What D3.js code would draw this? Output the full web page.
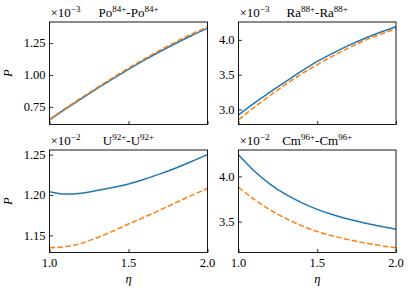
<!DOCTYPE html>
<html>
<head>
<meta charset="utf-8">
<script src="https://cdn.jsdelivr.net/npm/d3@7"></script>
<style>
  body { margin: 0; background: #fff; }
</style>
</head>
<body>
<svg id="chart" width="415" height="291" font-family="'Liberation Serif', 'DejaVu Serif', serif"></svg>
<script>
// eta grid shared by all four panels
const etaValues = [1.0, 1.1, 1.2, 1.3, 1.4, 1.5, 1.6, 1.7, 1.8, 1.9, 2.0];
const xTicks = [1.0, 1.5, 2.0];

// Po84+ - Po84+  (x 1e-3)
const poBlue   = [0.648, 0.732, 0.813, 0.892, 0.969, 1.044, 1.116, 1.184, 1.249, 1.310, 1.366];
const poOrange = [0.653, 0.738, 0.820, 0.900, 0.978, 1.054, 1.126, 1.195, 1.260, 1.322, 1.379];
const poTicks  = [0.75, 1.00, 1.25];

// Ra88+ - Ra88+  (x 1e-3)
const raBlue   = [2.92, 3.09, 3.25, 3.40, 3.55, 3.69, 3.81, 3.92, 4.02, 4.11, 4.19];
const raOrange = [2.85, 3.03, 3.20, 3.36, 3.51, 3.645, 3.77, 3.885, 3.99, 4.08, 4.16];
const raTicks  = [3.0, 3.5, 4.0];

// U92+ - U92+  (x 1e-2)
const uBlue   = [1.2040, 1.2011, 1.2022, 1.2055, 1.2093, 1.2137, 1.2195, 1.2262, 1.2335, 1.2415, 1.2500];
const uOrange = [1.1345, 1.1360, 1.1400, 1.1470, 1.1550, 1.1640, 1.1725, 1.1815, 1.1905, 1.1995, 1.2082];
const uTicks  = [1.15, 1.20, 1.25];

// Cm96+ - Cm96+  (x 1e-2)
const cmBlue   = [4.24, 4.06, 3.915, 3.80, 3.71, 3.635, 3.575, 3.525, 3.485, 3.448, 3.415];
const cmOrange = [3.88, 3.745, 3.63, 3.535, 3.455, 3.39, 3.34, 3.30, 3.265, 3.235, 3.21];
const cmTicks  = [3.5, 4.0];

const panels = [
    {el: 'Po', charge: '84+', exp: '\u22123', blue: poBlue, orange: poOrange, ticks: poTicks, fmt: '.2f', col: 0, row: 0},
    {el: 'Ra', charge: '88+', exp: '\u22123', blue: raBlue, orange: raOrange, ticks: raTicks, fmt: '.1f', col: 1, row: 0},
    {el: 'U', charge: '92+', exp: '\u22122', blue: uBlue, orange: uOrange, ticks: uTicks, fmt: '.2f', col: 0, row: 1},
    {el: 'Cm', charge: '96+', exp: '\u22122', blue: cmBlue, orange: cmOrange, ticks: cmTicks, fmt: '.1f', col: 1, row: 1}
];

const cols = [[49.5, 207.5], [238.5, 396]];
const rows = [[22, 124.5], [150, 252.5]];
const serif = "'Liberation Serif', 'DejaVu Serif', serif";

const svg = d3.select('#chart');

panels.forEach(p => {
    const [x0, x1] = cols[p.col];
    const [y0, y1] = rows[p.row];
    const w = x1 - x0, h = y1 - y0;

    const xScale = d3.scaleLinear().domain([1, 2]).range([0, w]);
    const all = p.blue.concat(p.orange);
    const [lo, hi] = d3.extent(all);
    const pad = (hi - lo) * 0.05;
    const yScale = d3.scaleLinear().domain([lo - pad, hi + pad]).range([h, 0]);

    const g = svg.append('g').attr('transform', `translate(${x0},${y0})`);

    const line = arr => d3.line()
        .x((d, i) => xScale(etaValues[i]))
        .y(d => yScale(d))
        .curve(d3.curveMonotoneX)(arr);

    g.append('path')
        .attr('d', line(p.blue))
        .attr('fill', 'none')
        .attr('stroke', '#1f77b4')
        .attr('stroke-width', 1.5);

    g.append('path')
        .attr('d', line(p.orange))
        .attr('fill', 'none')
        .attr('stroke', '#ff7f0e')
        .attr('stroke-width', 1.5)
        .attr('stroke-dasharray', '5.5,2.4');

    // inward ticks, left and bottom
    const yAxis = g.append('g')
        .call(d3.axisRight(yScale).tickValues(p.ticks).tickSize(3.5).tickFormat(''));
    const xAxis = g.append('g')
        .attr('transform', `translate(0,${h})`)
        .call(d3.axisTop(xScale).tickValues(xTicks).tickSize(3.5).tickFormat(''));
    [yAxis, xAxis].forEach(a => {
        a.select('.domain').remove();
        a.selectAll('line').attr('stroke', '#000').attr('stroke-width', 0.8);
    });

    g.selectAll('.ylab')
        .data(p.ticks)
        .enter()
        .append('text')
        .attr('x', -4)
        .attr('y', d => yScale(d))
        .attr('dy', '0.35em')
        .attr('text-anchor', 'end')
        .attr('font-family', serif)
        .attr('font-size', 12.5)
        .text(d => d3.format(p.fmt)(d));

    if (p.row === 1) {
        g.selectAll('.xlab')
            .data(xTicks)
            .enter()
            .append('text')
            .attr('x', d => xScale(d))
            .attr('y', h + 14.5)
            .attr('text-anchor', 'middle')
            .attr('font-family', serif)
            .attr('font-size', 12.5)
            .text(d => d3.format('.1f')(d));

        g.append('text')
            .attr('x', w / 2)
            .attr('y', h + 30)
            .attr('text-anchor', 'middle')
            .attr('font-family', serif)
            .attr('font-size', 12.5)
            .attr('font-style', 'italic')
            .text('\u03b7');
    }

    if (p.col === 0) {
        g.append('text')
            .attr('transform', `translate(-38,${h / 2}) rotate(-90)`)
            .attr('text-anchor', 'middle')
            .attr('font-family', serif)
            .attr('font-size', 12.5)
            .attr('font-style', 'italic')
            .text('P');
    }

    // frame
    g.append('rect')
        .attr('width', w)
        .attr('height', h)
        .attr('fill', 'none')
        .attr('stroke', '#000')
        .attr('stroke-width', 0.9);

    // offset text
    const off = g.append('text')
        .attr('x', 1)
        .attr('y', -5)
        .attr('font-family', serif)
        .attr('font-size', 13);
    off.append('tspan').text('\u00d710');
    off.append('tspan').attr('dy', -5).attr('font-size', 9).text(p.exp);

    // title
    const t = g.append('text')
        .attr('x', w / 2)
        .attr('y', -5)
        .attr('text-anchor', 'middle')
        .attr('font-family', serif)
        .attr('font-size', 13);
    t.append('tspan').text(p.el);
    t.append('tspan').attr('dy', -5).attr('font-size', 9).text(p.charge);
    t.append('tspan').attr('dy', 5).text('-' + p.el);
    t.append('tspan').attr('dy', -5).attr('font-size', 9).text(p.charge);
});
</script>
</body>
</html>
